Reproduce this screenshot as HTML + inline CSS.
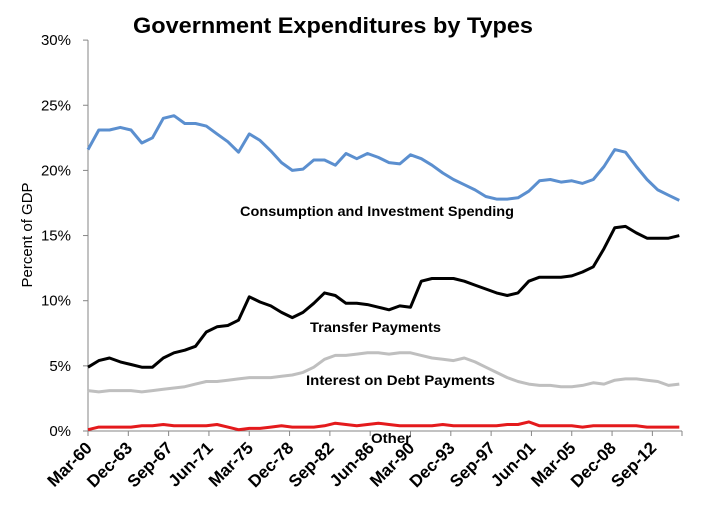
<!DOCTYPE html>
<html><head><meta charset="utf-8"><style>
body{margin:0;background:#fff;}
svg{display:block;font-family:"Liberation Sans",sans-serif;}
</style></head><body>
<svg id="chart" width="706" height="510" viewBox="0 0 706 510" xmlns="http://www.w3.org/2000/svg">
<rect width="706" height="510" fill="#fff"/>
<text x="333" y="33" text-anchor="middle" font-size="22" font-weight="bold" textLength="400" lengthAdjust="spacingAndGlyphs">Government Expenditures by Types</text>
<text transform="translate(32,235) rotate(-90)" text-anchor="middle" font-size="15">Percent of GDP</text>
<g id="axes"></g>
<g id="series"></g>
<text x="240" y="216" font-size="13.5" font-weight="bold" textLength="274" lengthAdjust="spacingAndGlyphs">Consumption and Investment Spending</text>
<text x="310" y="332" font-size="13.5" font-weight="bold" textLength="131" lengthAdjust="spacingAndGlyphs">Transfer Payments</text>
<text x="306" y="385" font-size="13.5" font-weight="bold" textLength="189" lengthAdjust="spacingAndGlyphs">Interest on Debt Payments</text>
<text x="371" y="443" font-size="13.5" font-weight="bold" textLength="40" lengthAdjust="spacingAndGlyphs">Other</text>
</svg>
<script>
const years = [];
for (let y = 1960; y <= 2015; y++) years.push(y);
const consumption = [21.6,23.1,23.1,23.3,23.1,22.1,22.5,24.0,24.2,23.6,23.6,23.4,22.8,22.2,21.4,22.8,22.3,21.5,20.6,20.0,20.1,20.8,20.8,20.4,21.3,20.9,21.3,21.0,20.6,20.5,21.2,20.9,20.4,19.8,19.3,18.9,18.5,18.0,17.8,17.8,17.9,18.4,19.2,19.3,19.1,19.2,19.0,19.3,20.3,21.6,21.4,20.3,19.3,18.5,18.1,17.7];
const transfers = [4.9,5.4,5.6,5.3,5.1,4.9,4.9,5.6,6.0,6.2,6.5,7.6,8.0,8.1,8.5,10.3,9.9,9.6,9.1,8.7,9.1,9.8,10.6,10.4,9.8,9.8,9.7,9.5,9.3,9.6,9.5,11.5,11.7,11.7,11.7,11.5,11.2,10.9,10.6,10.4,10.6,11.5,11.8,11.8,11.8,11.9,12.2,12.6,14.0,15.6,15.7,15.2,14.8,14.8,14.8,15.0];
const interest = [3.1,3.0,3.1,3.1,3.1,3.0,3.1,3.2,3.3,3.4,3.6,3.8,3.8,3.9,4.0,4.1,4.1,4.1,4.2,4.3,4.5,4.9,5.5,5.8,5.8,5.9,6.0,6.0,5.9,6.0,6.0,5.8,5.6,5.5,5.4,5.6,5.3,4.9,4.5,4.1,3.8,3.6,3.5,3.5,3.4,3.4,3.5,3.7,3.6,3.9,4.0,4.0,3.9,3.8,3.5,3.6];
const other = [0.1,0.3,0.3,0.3,0.3,0.4,0.4,0.5,0.4,0.4,0.4,0.4,0.5,0.3,0.1,0.2,0.2,0.3,0.4,0.3,0.3,0.3,0.4,0.6,0.5,0.4,0.5,0.6,0.5,0.4,0.4,0.4,0.4,0.5,0.4,0.4,0.4,0.4,0.4,0.5,0.5,0.7,0.4,0.4,0.4,0.4,0.3,0.4,0.4,0.4,0.4,0.4,0.3,0.3,0.3,0.3];
const yTicks = [0,5,10,15,20,25,30];
const xTickLabels = ["Mar-60","Dec-63","Sep-67","Jun-71","Mar-75","Dec-78","Sep-82","Jun-86","Mar-90","Dec-93","Sep-97","Jun-01","Mar-05","Dec-08","Sep-12"];
const xTickYears = [1960,1963.75,1967.5,1971.25,1975,1978.75,1982.5,1986.25,1990,1993.75,1997.5,2001.25,2005,2008.75,2012.5];

const X0=88, PXY=10.75, Y0=431, PXP=13.03;
const xs = y => X0 + (y-1960)*PXY;
const ys = v => Y0 - v*PXP;
const NS="http://www.w3.org/2000/svg";
const axes=document.getElementById('axes'), ser=document.getElementById('series');
function mk(tag, attrs, parent){const e=document.createElementNS(NS,tag);for(const k in attrs)e.setAttribute(k,attrs[k]);parent.appendChild(e);return e;}

const yaxis = mk('line',{x1:X0,y1:ys(30),x2:X0,y2:Y0,stroke:'#868686','stroke-width':1},axes);


const xaxis = mk('line',{x1:X0,y1:Y0,x2:682,y2:Y0,stroke:'#868686','stroke-width':1},axes);


yTicks.forEach(v=>{
  mk('line',{x1:X0-5,y1:ys(v),x2:X0,y2:ys(v),stroke:'#868686'},axes);
  const t=mk('text',{x:X0-17,y:ys(v)+5,'text-anchor':'end','font-size':15},axes);
  t.textContent=v+'%';
  
  
});
xTickYears.forEach((yr,i)=>{
  const x=xs(yr);
  mk('line',{x1:x,y1:Y0,x2:x,y2:Y0+5,stroke:'#868686'},axes);
  const t=mk('text',{x:x+5,y:Y0+18,'text-anchor':'end','font-size':17,'font-weight':'bold',transform:`rotate(-45 ${x+5} ${Y0+18})`},axes);
  t.textContent=xTickLabels[i];
  
  
});
mk('line',{x1:682,y1:Y0,x2:682,y2:Y0+5,stroke:'#868686'},axes);

function line(data,color,name){
  const d=data.map((v,i)=>(i?'L':'M')+xs(years[i]).toFixed(1)+' '+ys(v).toFixed(1)).join(' ');
  const p=mk('path',{d:d,fill:'none',stroke:color,'stroke-width':3,'stroke-linejoin':'round'},ser);
  
  
}
line(interest,'#bfbfbf','interest-line');
line(other,'#e41a1c','other-line');
line(transfers,'#000000','transfer-line');
line(consumption,'#5b8fcf','consumption-line');
</script>
</body></html>
